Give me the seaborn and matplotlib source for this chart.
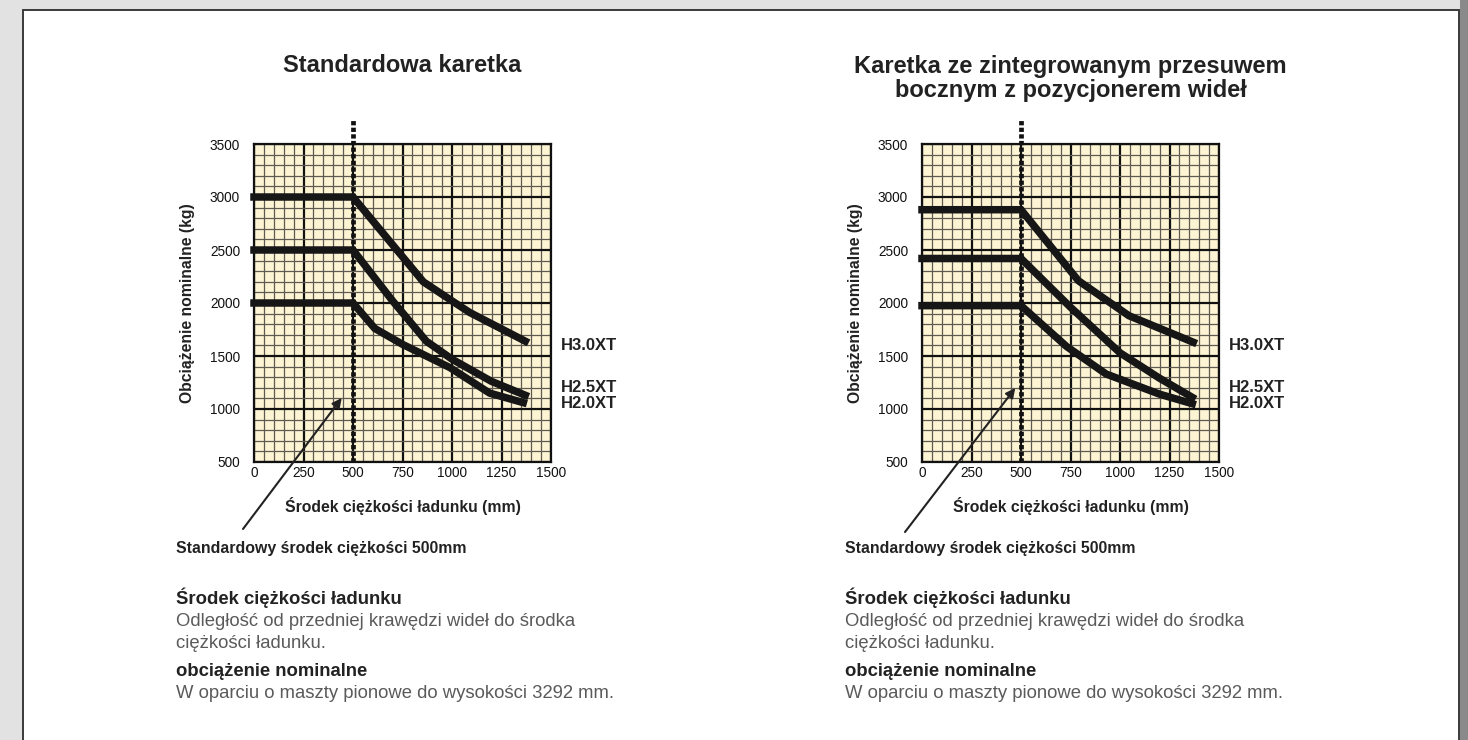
import numpy as np
import pandas as pd
import seaborn as sns
import matplotlib.pyplot as plt
from matplotlib import font_manager
from matplotlib.patches import Rectangle

# --- data --------------------------------------------------------------------
series_names = ["H3.0XT", "H2.5XT", "H2.0XT"]

# left chart: "Standardowa karetka"
std_h30_x = [0, 500, 855, 1000, 1090, 1370]
std_h30_y = [3000, 3000, 2200, 2020, 1910, 1640]
std_h25_x = [0, 500, 700, 870, 1000, 1200, 1370]
std_h25_y = [2500, 2500, 2020, 1640, 1470, 1260, 1130]
std_h20_x = [0, 500, 610, 750, 990, 1190, 1360]
std_h20_y = [2000, 2000, 1760, 1610, 1390, 1150, 1060]

# right chart: carriage with integrated sideshift / fork positioner
int_h30_x = [0, 500, 790, 1045, 1370]
int_h30_y = [2880, 2880, 2210, 1880, 1630]
int_h25_x = [0, 500, 750, 1000, 1200, 1365]
int_h25_y = [2420, 2420, 1960, 1530, 1290, 1110]
int_h20_x = [0, 500, 730, 930, 1200, 1365]
int_h20_y = [1975, 1975, 1590, 1330, 1140, 1050]

x_ticks = [0, 250, 500, 750, 1000, 1250, 1500]
y_ticks = [500, 1000, 1500, 2000, 2500, 3000, 3500]
std_center = 500

titles = [["Standardowa karetka"],
          ["Karetka ze zintegrowanym przesuwem", "bocznym z pozycjonerem wideł"]]
x_title = "Środek ciężkości ładunku (mm)"
y_title = "Obciążenie nominalne (kg)"
arrow_note = "Standardowy środek ciężkości 500mm"
note_head1 = "Środek ciężkości ładunku"
note_body1 = ["Odległość od przedniej krawędzi wideł do środka", "ciężkości ładunku."]
note_head2 = "obciążenie nominalne"
note_body2 = "W oparciu o maszty pionowe do wysokości 3292 mm."

sns.set_style("white")
plt.rcParams['font.family'] = ['Liberation Sans', 'DejaVu Sans']

available = {f.name for f in font_manager.fontManager.ttflist}
narrow = 'Liberation Sans Narrow' in available
tick_family = 'Liberation Sans Narrow' if narrow else 'Liberation Sans'
tick_size = 11 if narrow else 9.8

W, H = 1468, 740
fig = plt.figure(figsize=(W / 100, H / 100), dpi=100, facecolor='#e2e2e2')

# white page with border, behind everything
fig.patches.append(Rectangle((23 / W, -0.05), 1436 / W, 1.05 - 10 / H,
                             transform=fig.transFigure, facecolor='white',
                             edgecolor='#3a3a3a', lw=1.4, zorder=-10))
fig.patches.append(Rectangle((1460 / W, 0), 8 / W, 1,
                             transform=fig.transFigure, facecolor='#8a8a8a',
                             edgecolor='none', zorder=-10))


def fx(px):
    return px / W


def fy(py):
    return 1 - py / H


panels = [
    dict(left=254, title=titles[0], tip=(443, 1104), tail=(243, 529), note_x=176,
         data=[(std_h30_x, std_h30_y), (std_h25_x, std_h25_y), (std_h20_x, std_h20_y)]),
    dict(left=922, title=titles[1], tip=(471, 1198), tail=(905, 532), note_x=845,
         data=[(int_h30_x, int_h30_y), (int_h25_x, int_h25_y), (int_h20_x, int_h20_y)]),
]

label_y_px = [346, 387, 403]
dark = '#222222'
body = '#5a5a5a'

for p in panels:
    left, top, width, height = p['left'], 144, 297, 318
    ax = fig.add_axes([fx(left), fy(top + height), width / W, height / H])
    ax.set_facecolor('#fdf4d4')
    ax.set_xlim(0, 1500)
    ax.set_ylim(500, 3500)
    ax.set_xticks(x_ticks)
    ax.set_yticks(y_ticks)
    ax.set_xticks(np.arange(0, 1501, 50), minor=True)
    ax.set_yticks(np.arange(500, 3501, 100), minor=True)
    ax.grid(which='minor', color='#5e5a52', lw=0.9, zorder=0)
    ax.grid(which='major', color='#111111', lw=1.6, zorder=0)
    ax.set_axisbelow(True)
    for s in ax.spines.values():
        s.set_color('#111111')
        s.set_linewidth(1.6)
    ax.tick_params(which='both', length=0)
    ax.tick_params(axis='y', pad=10)
    ax.tick_params(axis='x', pad=3)
    for lab in ax.get_xticklabels() + ax.get_yticklabels():
        lab.set_family(tick_family)
        lab.set_fontsize(tick_size)
        lab.set_color('#111111')

    # standard load centre marker
    ax.plot([std_center, std_center], [500, 3730], color='#111111', lw=3.4,
            ls=(0, (0.9, 0.5)), clip_on=False, zorder=3)

    for (xs, ys), name, ly in zip(p['data'], series_names, label_y_px):
        df = pd.DataFrame({'x': xs, 'y': ys})
        sns.lineplot(data=df, x='x', y='y', ax=ax, sort=False, color='#161616',
                     lw=5.4, solid_capstyle='projecting', solid_joinstyle='miter',
                     clip_on=False, zorder=4)
        fig.text(fx(left + width + 10), fy(ly), name, fontsize=12,
                 fontweight='bold', color=dark, va='center', ha='left')

    ax.set_xlabel(x_title, fontsize=11.3, fontweight='bold', color=dark, labelpad=12)
    ax.set_ylabel(y_title, fontsize=11.3, fontweight='bold', color=dark, labelpad=11)

    ax.annotate('', xy=p['tip'], xycoords='data',
                xytext=(fx(p['tail'][0]), fy(p['tail'][1])), textcoords='figure fraction',
                arrowprops=dict(arrowstyle='-|>', color=dark, lw=1.5,
                                mutation_scale=14, shrinkA=0, shrinkB=0))

    cx = left + width / 2
    for i, line in enumerate(p['title']):
        fig.text(fx(cx), fy(66 + 25 * i), line, fontsize=17,
                 fontweight='bold', color=dark, ha='center', va='center')

    nx = fx(p['note_x'])
    fig.text(nx, fy(549), arrow_note, fontsize=11.4, fontweight='bold',
             color=dark, va='center')
    fig.text(nx, fy(598), note_head1, fontsize=13.3, fontweight='bold',
             color=dark, va='center')
    for i, line in enumerate(note_body1):
        fig.text(nx, fy(621 + 22 * i), line, fontsize=13.3, color=body, va='center')
    fig.text(nx, fy(672), note_head2, fontsize=13.3, fontweight='bold',
             color=dark, va='center')
    fig.text(nx, fy(694), note_body2, fontsize=13.3, color=body, va='center')

fig.savefig('out.png', dpi=100, facecolor=fig.get_facecolor())
